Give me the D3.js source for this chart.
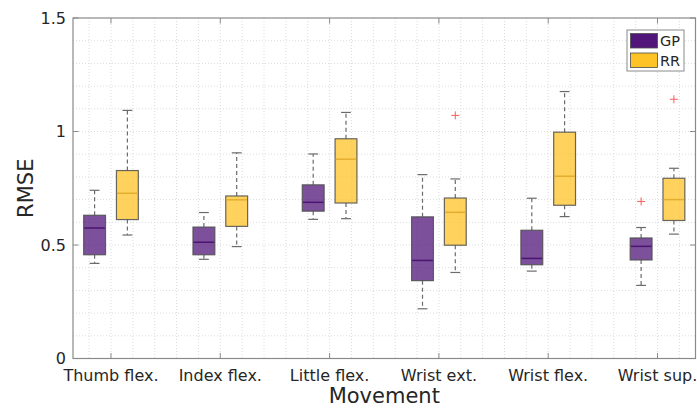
<!DOCTYPE html>
<html>
<head>
<meta charset="utf-8">
<script src="https://cdn.jsdelivr.net/npm/d3@7"></script>
<style>
  html, body { margin: 0; padding: 0; background: #fff; }
  svg { display: block; font-family: "DejaVu Sans", sans-serif; }
</style>
</head>
<body>
<svg id="chart" width="697" height="408"></svg>
<script>
// ---- Data ----
const categories = ["Thumb flex.", "Index flex.", "Little flex.", "Wrist ext.", "Wrist flex.", "Wrist sup."];
const seriesNames = ["GP", "RR"];

const gpLowWhisker  = [0.419, 0.437, 0.613, 0.219, 0.385, 0.322];
const gpQ1          = [0.457, 0.457, 0.649, 0.343, 0.413, 0.434];
const gpMedian      = [0.575, 0.512, 0.688, 0.432, 0.441, 0.494];
const gpQ3          = [0.631, 0.579, 0.765, 0.624, 0.565, 0.531];
const gpHighWhisker = [0.741, 0.643, 0.901, 0.810, 0.706, 0.577];
const gpOutliers    = [[], [], [], [], [], [0.692]];

const rrLowWhisker  = [0.544, 0.493, 0.616, 0.379, 0.625, 0.548];
const rrQ1          = [0.612, 0.582, 0.685, 0.499, 0.675, 0.608];
const rrMedian      = [0.728, 0.699, 0.878, 0.644, 0.803, 0.700];
const rrQ3          = [0.828, 0.716, 0.968, 0.707, 0.997, 0.794];
const rrHighWhisker = [1.093, 0.906, 1.084, 0.791, 1.176, 0.838];
const rrOutliers    = [[], [], [], [1.071], [], [1.142]];

const yTicks = [0, 0.5, 1, 1.5];
const yTickLabels = ["0", "0.5", "1", "1.5"];

// ---- Layout ----
const mLeft = 73, mRight = 695.5, mTop = 18, mBottom = 358.5;
const colors = { GP: "#52167a", RR: "#fdc327" };
const fillOpacity = 0.75;
const groupOffset = 0.15, boxW = 0.2, capW = 0.09;

const svg = d3.select("#chart");
const x = d3.scaleLinear().domain([0.6524, 6.3476]).range([mLeft, mRight]);
const y = d3.scaleLinear().domain([0, 1.5]).range([mBottom, mTop]);

// ---- Grid ----
const grid = svg.append("g");
const hGrid = d3.range(1, 15).map(i => i / 10);
grid.selectAll("line.h").data(hGrid).join("line")
  .attr("x1", mLeft).attr("x2", mRight)
  .attr("y1", d => y(d)).attr("y2", d => y(d))
  .attr("stroke", "#dcdcdc").attr("stroke-width", 1).attr("stroke-dasharray", "1,2");
const vGrid = d3.range(4, 32).map(i => i / 5).filter(v => v > 0.66 && v < 6.34);
grid.selectAll("line.v").data(vGrid).join("line")
  .attr("y1", mTop).attr("y2", mBottom)
  .attr("x1", d => x(d)).attr("x2", d => x(d))
  .attr("stroke", "#dcdcdc").attr("stroke-width", 1).attr("stroke-dasharray", "1,2");

// ---- Boxes ----
const series = [
  { name: "GP", off: -groupOffset, lw: gpLowWhisker, q1: gpQ1, med: gpMedian, q3: gpQ3, hw: gpHighWhisker, out: gpOutliers },
  { name: "RR", off:  groupOffset, lw: rrLowWhisker, q1: rrQ1, med: rrMedian, q3: rrQ3, hw: rrHighWhisker, out: rrOutliers }
];

series.forEach(s => {
  const g = svg.append("g");
  const rows = categories.map((c, i) => ({ i, c, lw: s.lw[i], q1: s.q1[i], med: s.med[i], q3: s.q3[i], hw: s.hw[i], out: s.out[i] }));
  rows.forEach(r => {
    const cx = x(r.i + 1 + s.off);
    const hx0 = x(r.i + 1 + s.off - boxW / 2), hx1 = x(r.i + 1 + s.off + boxW / 2);
    const cx0 = x(r.i + 1 + s.off - capW / 2), cx1 = x(r.i + 1 + s.off + capW / 2);
    g.append("line").attr("x1", cx).attr("x2", cx).attr("y1", y(r.q3)).attr("y2", y(r.hw))
      .attr("stroke", "#6b6b6b").attr("stroke-width", 1.2).attr("stroke-dasharray", "4,3");
    g.append("line").attr("x1", cx).attr("x2", cx).attr("y1", y(r.q1)).attr("y2", y(r.lw))
      .attr("stroke", "#6b6b6b").attr("stroke-width", 1.2).attr("stroke-dasharray", "4,3");
    g.append("line").attr("x1", cx0).attr("x2", cx1).attr("y1", y(r.hw)).attr("y2", y(r.hw))
      .attr("stroke", "#6b6b6b").attr("stroke-width", 1.2);
    g.append("line").attr("x1", cx0).attr("x2", cx1).attr("y1", y(r.lw)).attr("y2", y(r.lw))
      .attr("stroke", "#6b6b6b").attr("stroke-width", 1.2);
    g.append("rect").attr("x", hx0).attr("y", y(r.q3)).attr("width", hx1 - hx0).attr("height", y(r.q1) - y(r.q3))
      .attr("fill", colors[s.name]).attr("fill-opacity", fillOpacity)
      .attr("stroke", "#4d4d4d").attr("stroke-opacity", 0.85).attr("stroke-width", 1.2);
    g.append("line").attr("x1", hx0 + 0.6).attr("x2", hx1 - 0.6).attr("y1", y(r.med)).attr("y2", y(r.med))
      .attr("stroke", s.name === "GP" ? "#4a1470" : "#e3ae30").attr("stroke-width", 1.5);
    r.out.forEach(o => {
      const px = cx, py = y(o), k = 4;
      g.append("line").attr("x1", px - k).attr("x2", px + k).attr("y1", py).attr("y2", py).attr("stroke", "#ff5a5a").attr("stroke-width", 1);
      g.append("line").attr("x1", px).attr("x2", px).attr("y1", py - k).attr("y2", py + k).attr("stroke", "#ff5a5a").attr("stroke-width", 1);
    });
  });
});

// ---- Axes frame ----
const axisColor = "#8a8a8a";
svg.append("rect").attr("x", mLeft).attr("y", mTop).attr("width", mRight - mLeft).attr("height", mBottom - mTop)
  .attr("fill", "none").attr("stroke", axisColor).attr("stroke-width", 1.2);

const tickLen = 5.5;
yTicks.forEach((t, i) => {
  svg.append("line").attr("x1", mLeft).attr("x2", mLeft + tickLen).attr("y1", y(t)).attr("y2", y(t)).attr("stroke", axisColor);
  svg.append("line").attr("x1", mRight).attr("x2", mRight - tickLen).attr("y1", y(t)).attr("y2", y(t)).attr("stroke", axisColor);
  svg.append("text").attr("x", mLeft - 7).attr("y", y(t)).attr("dy", "0.36em")
    .attr("text-anchor", "end").attr("font-size", 16).attr("fill", "#262626").text(yTickLabels[i]);
});
categories.forEach((c, i) => {
  const cx = x(i + 1);
  svg.append("line").attr("x1", cx).attr("x2", cx).attr("y1", mBottom).attr("y2", mBottom - tickLen).attr("stroke", axisColor);
  svg.append("line").attr("x1", cx).attr("x2", cx).attr("y1", mTop).attr("y2", mTop + tickLen).attr("stroke", axisColor);
  svg.append("text").attr("x", cx).attr("y", 380.5)
    .attr("text-anchor", "middle").attr("font-size", 16).attr("fill", "#262626").text(c);
});

// ---- Axis titles ----
svg.append("text").attr("x", (mLeft + mRight) / 2).attr("y", 403)
  .attr("text-anchor", "middle").attr("font-size", 21).attr("fill", "#262626").text("Movement");
svg.append("text").attr("transform", `translate(33,${(mTop + mBottom) / 2}) rotate(-90)`)
  .attr("text-anchor", "middle").attr("font-size", 21).attr("fill", "#262626").text("RMSE");

// ---- Legend ----
const lg = svg.append("g");
lg.append("rect").attr("x", 627).attr("y", 30).attr("width", 57).attr("height", 41)
  .attr("fill", "#fff").attr("stroke", "#8a8a8a").attr("stroke-width", 1);
seriesNames.forEach((n, i) => {
  const yy = 33.5 + i * 19.5;
  lg.append("rect").attr("x", 630.5).attr("y", yy).attr("width", 27).attr("height", 14.5)
    .attr("fill", colors[n]).attr("stroke", "#4d4d4d").attr("stroke-width", 0.8);
  lg.append("text").attr("x", 660).attr("y", yy + 7.5).attr("dy", "0.36em")
    .attr("font-size", 14.5).attr("fill", "#262626").text(n);
});
</script>
</body>
</html>
